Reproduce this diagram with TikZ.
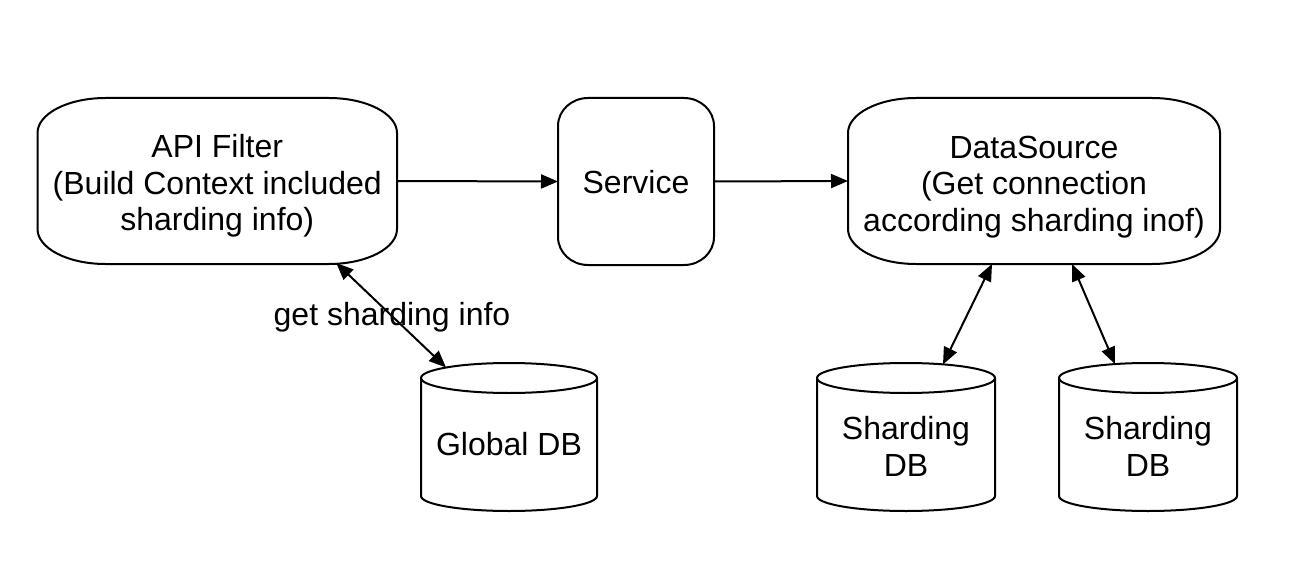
\documentclass[tikz,border=0pt]{standalone}
\usepackage{fontspec}
\setmainfont{Liberation Sans}
\usetikzlibrary{arrows.meta,calc}
\newcommand\mainsize{\fontsize{32}{36.5}\selectfont}
\newcommand\softbox[3]{%
  \draw[outline] ($(#1.north west)+(0,-#3)$)
    .. controls +(0,0.552*#3) and +(-0.552*#2,0) .. ($(#1.north west)+(#2,0)$)
    -- ($(#1.north east)+(-#2,0)$)
    .. controls +(0.552*#2,0) and +(0,0.552*#3) .. ($(#1.north east)+(0,-#3)$)
    -- ($(#1.south east)+(0,#3)$)
    .. controls +(0,-0.552*#3) and +(0.552*#2,0) .. ($(#1.south east)+(-#2,0)$)
    -- ($(#1.south west)+(#2,0)$)
    .. controls +(-0.552*#2,0) and +(0,-0.552*#3) .. ($(#1.south west)+(0,#3)$)
    -- cycle;}
\newcommand\dbshape[3]{%
  \draw[outline] (#1.north) ellipse [x radius=#2pt, y radius=#3pt];
  \draw[outline] (#1.north west) -- ($(#1.south west)+(0,#3)$)
    arc[start angle=180, end angle=360, x radius=#2pt, y radius=#3pt] -- (#1.north east);}
\tikzset{
  box/.style={draw=none, inner sep=0pt, outer sep=0pt},
  txt/.style={align=center, font=\mainsize, inner sep=0pt},
  outline/.style={line width=2pt, line join=round},
  conn/.style={line width=2pt, -{Triangle[length=17pt,width=14pt]}},
  biconn/.style={line width=2pt, {Triangle[length=17pt,width=14pt]}-{Triangle[length=17pt,width=14pt]}},
}
\begin{document}
\begin{tikzpicture}[x=1pt,y=1pt]
\useasboundingbox (0,0) rectangle (1302,-578);
\fill[white] (0,0) rectangle (1302,-578);
% process nodes
\node[box, minimum width=359.5pt, minimum height=166pt] (api) at (217.25,-181) {};
\node[box, minimum width=156pt, minimum height=167pt] (svc) at (636,-181.5) {};
\node[box, minimum width=372pt, minimum height=166pt] (ds) at (1034,-181) {};
\softbox{api}{68}{35}
\softbox{svc}{30}{28}
\softbox{ds}{68}{35}
\node[txt] (apitext) at ($(api.center)+(0,-5)$) {API Filter\\(Build Context included\\sharding info)};
\node[txt] (svctext) at ($(svc.center)+(0,-1)$) {Service};
\node[txt] (dstext) at ($(ds.center)+(0,-6)$) {DataSource\\(Get connection\\according sharding inof)};
% databases
\node[box, minimum width=176pt, minimum height=133pt] (gdb) at (509,-444.5) {};
\node[box, minimum width=178pt, minimum height=133pt] (sdba) at (906,-444.5) {};
\node[box, minimum width=178pt, minimum height=133pt] (sdbb) at (1148,-444.5) {};
\dbshape{gdb}{88}{15}
\dbshape{sdba}{89}{15}
\dbshape{sdbb}{89}{15}
\node[txt] (gdbtext) at (gdb.center) {Global DB};
\node[txt] (sdbatext) at ($(sdba.center)+(0,-2)$) {Sharding\\DB};
\node[txt] (sdbbtext) at ($(sdbb.center)+(0,-2)$) {Sharding\\DB};
% connectors
\draw[conn] (api.east) -- (svc.west);
\draw[conn] (svc.east) -- (ds.west);
\draw[biconn] ($(api.south)+(119,1)$) -- ($(gdb.north)+(-63,10.5)$);
\draw[biconn] ($(ds.south)+(-42,0)$) -- ($(sdba.north)+(37,13.6)$);
\draw[biconn] ($(ds.south)+(38,0)$) -- ($(sdbb.north)+(-33,13.9)$);
\node[txt] (getinfo) at (392,-317) {get sharding info};
\end{tikzpicture}
\end{document}
